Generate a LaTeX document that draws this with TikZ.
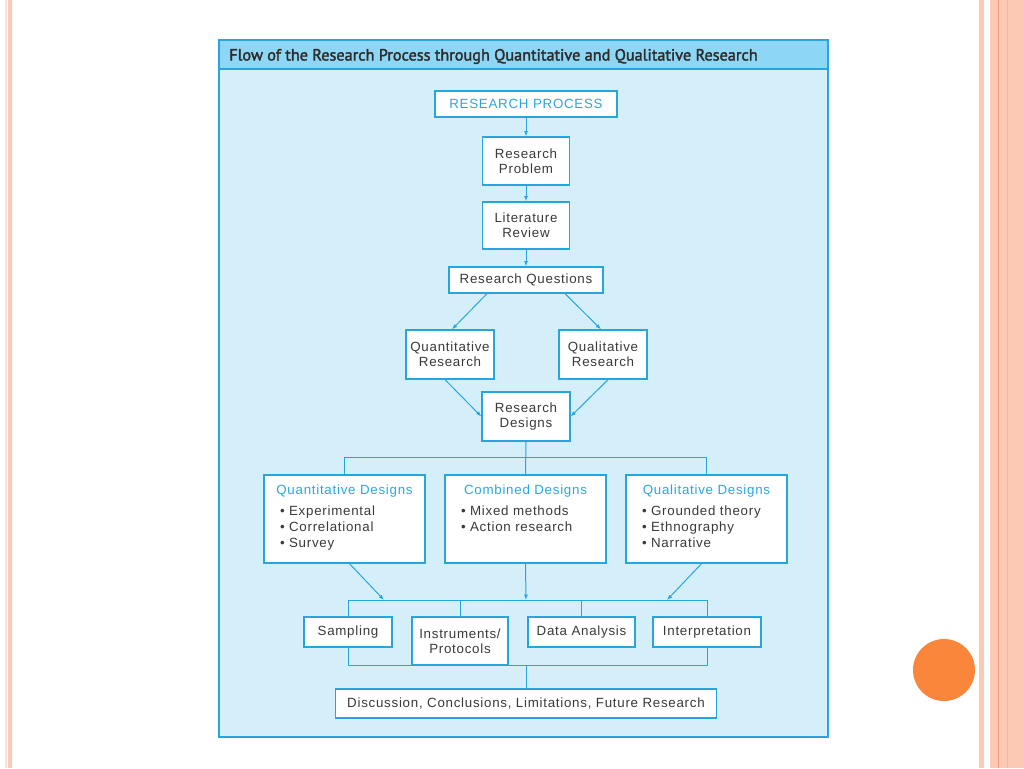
\documentclass[tikz,border=0pt]{standalone}
\usepackage{fontspec}
\setmainfont{Liberation Sans}[LetterSpace=5.5]
\newfontfamily\titlefont{PT Sans}[FakeBold=2]
\usetikzlibrary{arrows.meta,calc}

\definecolor{lineblue}{RGB}{39,166,222}
\definecolor{hdrblue}{RGB}{41,168,224}
\definecolor{bodyblue}{RGB}{212,238,250}
\definecolor{titleblue}{RGB}{142,214,245}
\definecolor{txtgray}{RGB}{58,58,58}
\definecolor{titlegray}{RGB}{45,45,45}
\definecolor{pinkband}{RGB}{251,201,180}
\definecolor{pinkpale}{RGB}{248,228,214}
\definecolor{orangeline}{RGB}{242,160,124}
\definecolor{dotorange}{RGB}{249,134,58}

\begin{document}
\begin{tikzpicture}[x=0.75pt,y=-0.75pt,
  box/.style={draw=lineblue, line width=1pt, fill=white, text=txtgray,
    align=center, inner sep=0pt, font=\fontsize{10}{11.25}\selectfont},
  sz/.style 2 args={minimum width=#1*0.75pt, minimum height=#2*0.75pt},
  conn/.style={draw=lineblue, line width=0.75pt},
  arr/.style={conn, -{Latex[length=4pt,width=3pt]}}]
  % Slide background
  \useasboundingbox (0,0) rectangle (1024,768);
  \fill[white] (0,0) rectangle (1024,768);
  \fill[pinkpale] (5,0) rectangle (6.5,768);
  \fill[pinkband] (8,0) rectangle (12,768);
  \fill[pinkband] (979,0) rectangle (983.5,768);
  \fill[pinkband] (990,0) rectangle (1024,768);
  \draw[orangeline, line width=0.6pt] (998.5,0) -- (998.5,768);
  \draw[orangeline!50!pinkband, line width=0.4pt] (1007,0) -- (1007,768);
  \fill[dotorange] (944,670) circle (23.25pt);

  % Frame and title
  \fill[bodyblue] (219,40) rectangle (828,737);
  \fill[titleblue] (219,40) rectangle (828,69);
  \draw[lineblue, line width=1.2pt] (219,40) rectangle (828,737) (219,69) -- (828,69);
  \node[anchor=base west, inner sep=0pt, text=titlegray,
    font=\titlefont\fontsize{12.2}{14}\selectfont] (title) at (229,60.5)
    {Flow of the Research Process through Quantitative and Qualitative Research};

  % Main chain
  \node[box, sz={182}{26}, text=hdrblue] (rp) at (526,104) {RESEARCH PROCESS};
  \node[box, sz={87}{48}] (prob) at (526,161) {Research\\Problem};
  \node[box, sz={87}{47}] (lit) at (526,225.5) {Literature\\Review};
  \node[box, sz={154}{26}] (rq) at (526,280) {Research Questions};
  \node[box, sz={88}{49}] (quan) at (450,354.5) {Quantitative\\Research};
  \node[box, sz={88}{49}] (qual) at (603,354.5) {Qualitative\\Research};
  \node[box, sz={88}{49}] (des) at (526,416.5) {Research\\Designs};

  % Designs
  \node[box, sz={161}{88}] (qnd) at (344.5,519) {\parbox[c][51pt][t]{96.75pt}{%
    \fontsize{10}{12}\selectfont
    \makebox[\linewidth]{\color{hdrblue}Quantitative Designs}\\[3.75pt]
    \textbullet\ Experimental\\\textbullet\ Correlational\\\textbullet\ Survey}};
  \node[box, sz={161}{88}] (cmd) at (525.5,519) {\parbox[c][51pt][t]{96.75pt}{%
    \fontsize{10}{12}\selectfont
    \makebox[\linewidth]{\color{hdrblue}Combined Designs}\\[3.75pt]
    \textbullet\ Mixed methods\\\textbullet\ Action research}};
  \node[box, sz={161}{88}] (qld) at (706.5,519) {\parbox[c][51pt][t]{96.75pt}{%
    \fontsize{10}{12}\selectfont
    \makebox[\linewidth]{\color{hdrblue}Qualitative Designs}\\[3.75pt]
    \textbullet\ Grounded theory\\\textbullet\ Ethnography\\\textbullet\ Narrative}};

  % Methods
  \node[box, sz={88}{30}] (samp) at (348,632) {Sampling};
  \node[box, sz={96}{48}] (inst) at (460,641) {Instruments/\\Protocols};
  \node[box, sz={107}{30}] (data) at (581.5,632) {Data Analysis};
  \node[box, sz={108}{30}] (interp) at (707,632) {Interpretation};
  \node[box, sz={381}{29}] (disc) at (526,703.5)
    {Discussion, Conclusions, Limitations, Future Research};

  % Connectors
  \draw[arr] (rp) -- (prob);
  \draw[arr] (prob) -- (lit);
  \draw[arr] (lit) -- (rq);
  \draw[arr] ($(rq.south)+(-39,0)$) -- ($(quan.north)+(2,0)$);
  \draw[arr] ($(rq.south)+(39,0)$) -- ($(qual.north)+(-2,0)$);
  \draw[arr] ($(quan.south)+(-5,0)$) -- (des.west);
  \draw[arr] ($(qual.south)+(5,0)$) -- (des.east);
  \draw[conn] (des.south) -- (cmd.north);
  \draw[conn] (qnd.north) |- ($(des.south)+(0,16)$) -| (qld.north);

  \coordinate (m1) at (384,600);
  \coordinate (m2) at (526,600);
  \coordinate (m3) at (667,600);
  \draw[arr] ($(qnd.south)+(5,0)$) -- (m1);
  \draw[arr] (cmd.south) -- (m2);
  \draw[arr] ($(qld.south)+(-5,0)$) -- (m3);
  \draw[conn] (samp.north) |- (m2) -| (interp.north);
  \draw[conn] (inst.north) -- (inst.north |- m2);
  \draw[conn] (data.north) -- (data.north |- m2);
  \draw[conn] (samp.south) |- (inst.south) -| (interp.south);
  \draw[conn] (disc.north) -- (disc.north |- inst.south);
\end{tikzpicture}
\end{document}
